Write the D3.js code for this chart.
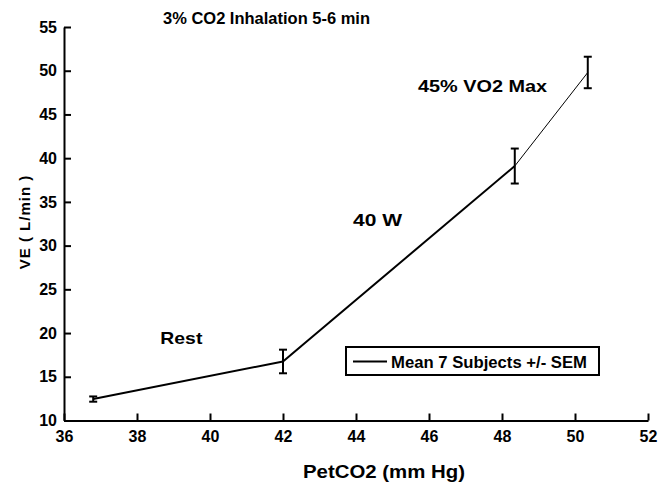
<!DOCTYPE html>
<html>
<head>
<meta charset="utf-8">
<script src="https://cdn.jsdelivr.net/npm/d3@7/dist/d3.min.js"></script>
<style>
  body { margin: 0; background: #fff; }
  text { font-family: "Liberation Sans", Arial, sans-serif; font-weight: bold; fill: #000; }
</style>
</head>
<body>
<script>
const w = 663;
const h = 485;

// data
const petco2 = [36.8, 42.0, 48.35, 50.35];
const ve = [12.45, 16.75, 39.1, 49.8];
const sem = [0.3, 1.35, 2.0, 1.8];
const xTicks = [36, 38, 40, 42, 44, 46, 48, 50, 52];
const yTicks = [10, 15, 20, 25, 30, 35, 40, 45, 50, 55];
const stageLabels = ["Rest", "40 W", "45% VO2 Max"];
const stageX = [38.64, 43.92, 45.7];
const stageY = [18.8, 32.2, 47.6];

const svg = d3.select("body")
  .append("svg")
  .attr("width", w)
  .attr("height", h);

const x = d3.scaleLinear().domain([36, 52]).range([64, 648]);
const y = d3.scaleLinear().domain([10, 55]).range([420.5, 27]);

// axes, ticks pointing inwards
const xAxis = svg.append("g")
  .attr("transform", `translate(0,${y(10)})`)
  .call(d3.axisBottom(x).tickValues(xTicks).tickSizeInner(-7).tickSizeOuter(0).tickPadding(10));
const yAxis = svg.append("g")
  .attr("transform", `translate(${x(36)},0)`)
  .call(d3.axisLeft(y).tickValues(yTicks).tickSizeInner(-7).tickSizeOuter(0).tickPadding(7));

[xAxis, yAxis].forEach(g => {
  g.select(".domain").attr("stroke", "#000").attr("stroke-width", 2);
  g.selectAll(".tick line").attr("stroke", "#000").attr("stroke-width", 2);
  g.selectAll(".tick text").style("font-size", "16px").attr("fill", "#000");
});

// line, thinner towards the top
const pts = petco2.map((d, i) => [d, ve[i]]);
const widths = [2, 2, 1];
for (let i = 0; i < pts.length - 1; i++) {
  svg.append("line")
    .attr("x1", x(pts[i][0])).attr("y1", y(pts[i][1]))
    .attr("x2", x(pts[i + 1][0])).attr("y2", y(pts[i + 1][1]))
    .attr("stroke", "#000")
    .attr("stroke-width", widths[i]);
}

// error bars
const eb = svg.selectAll(".err")
  .data(pts.map((p, i) => ({ x: p[0], y: p[1], e: sem[i] })))
  .enter()
  .append("g")
  .attr("class", "err")
  .attr("stroke", "#000")
  .attr("stroke-width", 2);
eb.append("line")
  .attr("x1", d => x(d.x)).attr("x2", d => x(d.x))
  .attr("y1", d => y(d.y - d.e)).attr("y2", d => y(d.y + d.e));
eb.append("line")
  .attr("x1", d => x(d.x) - 4).attr("x2", d => x(d.x) + 4)
  .attr("y1", d => y(d.y - d.e)).attr("y2", d => y(d.y - d.e));
eb.append("line")
  .attr("x1", d => x(d.x) - 4).attr("x2", d => x(d.x) + 4)
  .attr("y1", d => y(d.y + d.e)).attr("y2", d => y(d.y + d.e));

// stage labels
const stageLen = [42, 49, 129];
svg.selectAll(".stage")
  .data(stageLabels)
  .enter()
  .append("text")
  .attr("class", "stage")
  .attr("x", (d, i) => x(stageX[i]))
  .attr("y", (d, i) => y(stageY[i]))
  .attr("textLength", (d, i) => stageLen[i])
  .attr("lengthAdjust", "spacingAndGlyphs")
  .style("font-size", "17px")
  .text(d => d);

// title
svg.append("text")
  .attr("x", 163).attr("y", 24)
  .attr("textLength", 207).attr("lengthAdjust", "spacingAndGlyphs")
  .style("font-size", "16.5px")
  .text("3% CO2 Inhalation 5-6 min");

// axis titles
svg.append("text")
  .attr("x", 303).attr("y", 478)
  .attr("textLength", 162).attr("lengthAdjust", "spacingAndGlyphs")
  .style("font-size", "18px")
  .text("PetCO2 (mm Hg)");
svg.append("text")
  .attr("transform", "translate(30,222) rotate(-90)")
  .attr("text-anchor", "middle")
  .style("font-size", "15px")
  .style("letter-spacing", "1px")
  .text("VE ( L/min )");

// legend
const lg = svg.append("g").attr("transform", "translate(346,347)");
lg.append("rect")
  .attr("width", 253).attr("height", 28)
  .attr("fill", "#fff").attr("stroke", "#000").attr("stroke-width", 2);
lg.append("line")
  .attr("x1", 7).attr("x2", 41).attr("y1", 14.5).attr("y2", 14.5)
  .attr("stroke", "#000").attr("stroke-width", 2);
lg.append("text")
  .attr("x", 45).attr("y", 20.5)
  .attr("textLength", 196).attr("lengthAdjust", "spacingAndGlyphs")
  .style("font-size", "16px")
  .text("Mean 7 Subjects +/- SEM");
</script>
</body>
</html>
